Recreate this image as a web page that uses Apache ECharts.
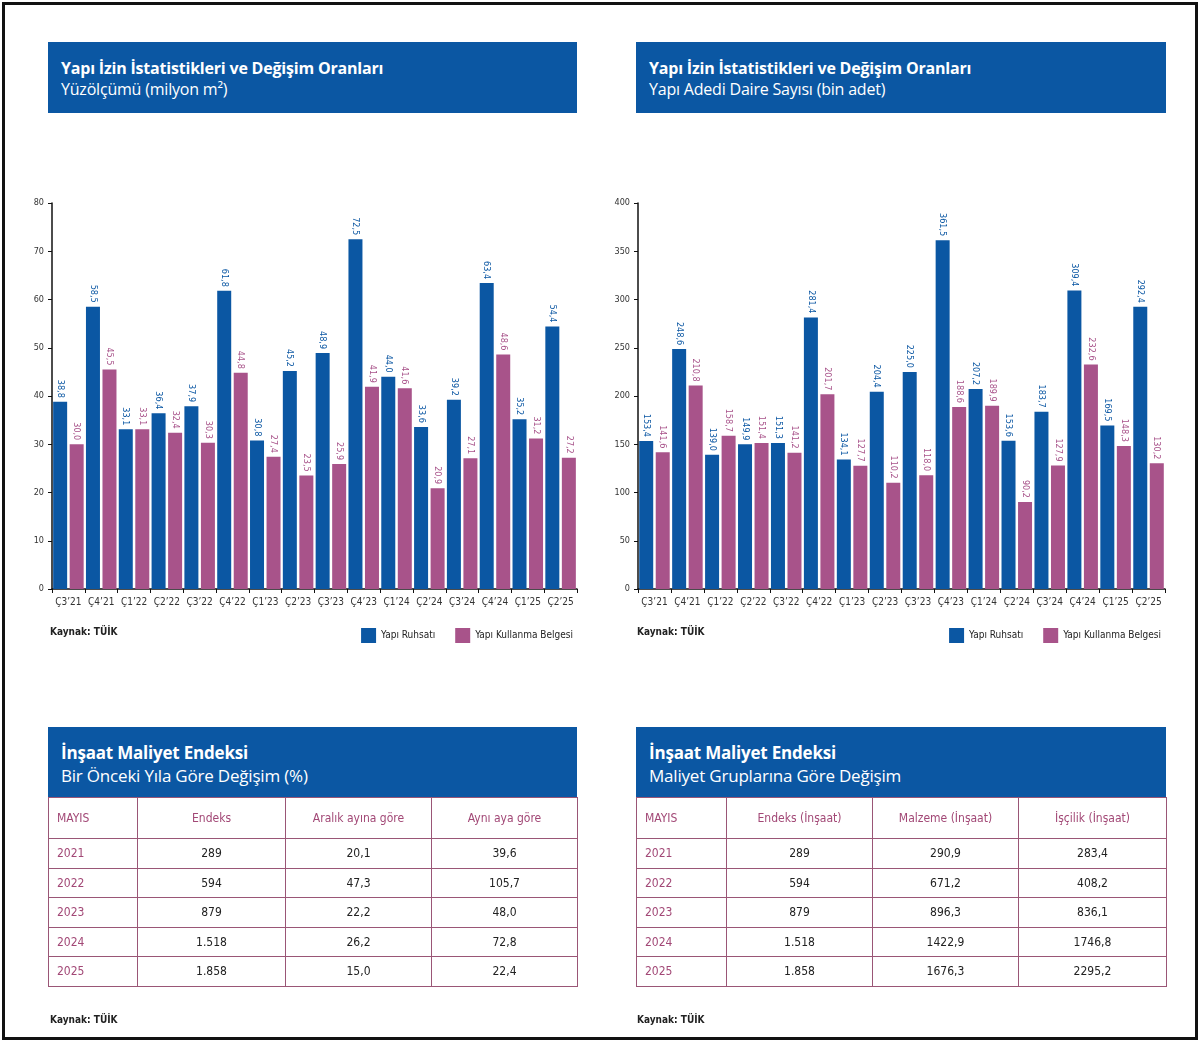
<!DOCTYPE html>
<html>
<head>
<meta charset="utf-8">
<script src="https://cdn.jsdelivr.net/npm/echarts@6/dist/echarts.min.js"></script>
<style>
  html, body { margin:0; padding:0; background:#fff; }
  body { width:1200px; height:1042px; position:relative; overflow:hidden; }
  #frame { position:absolute; left:2px; top:2px; width:1196px; height:1038px; box-sizing:border-box; border:3px solid #111; pointer-events:none; z-index:5; }
  #chart { position:absolute; left:0; top:0; width:1200px; height:1042px; }
  .hdr { position:absolute; background:#0b57a3; color:#fff; font-family:"Open Sans","Noto Sans",sans-serif; box-sizing:border-box; padding-left:13px; z-index:3; }
  .hdr .t { font-weight:700; font-size:16px; line-height:21px; letter-spacing:-0.2px; }
  .hdr .s { font-weight:400; font-size:16px; line-height:21px; letter-spacing:-0.2px; }
  .src { position:absolute; font-family:"Liberation Sans Narrow","DejaVu Sans Condensed","Liberation Sans",sans-serif; font-size:10px; color:#222; z-index:3; font-weight:700; }
  table { position:absolute; border-collapse:collapse; table-layout:fixed; z-index:3; font-family:"Liberation Sans Narrow","DejaVu Sans Condensed","Liberation Sans",sans-serif; font-size:12px; }
  td, th { border:1.5px solid #9a5676; padding:0; text-align:center; color:#222; }
  th { height:40px; color:#a24876; font-weight:400; }
  td { height:28.5px; }
  td.y, th.y { text-align:left; padding-left:8px; color:#a24876; }
</style>
</head>
<body>
<div id="frame"></div>
<div id="chart"></div>

<div class="hdr" style="left:48px;top:42px;width:529px;height:71px;padding-top:16px;">
  <div class="t">Yapı İzin İstatistikleri ve Değişim Oranları</div>
  <div class="s">Yüzölçümü (milyon m²)</div>
</div>
<div class="hdr" style="left:636px;top:42px;width:530px;height:71px;padding-top:16px;">
  <div class="t">Yapı İzin İstatistikleri ve Değişim Oranları</div>
  <div class="s">Yapı Adedi Daire Sayısı (bin adet)</div>
</div>

<div class="src" style="left:50px;top:626px;">Kaynak: TÜİK</div>
<div class="src" style="left:637px;top:626px;">Kaynak: TÜİK</div>

<div class="hdr" style="left:48px;top:727px;width:529px;height:71px;padding-top:14px;">
  <div class="t" style="font-size:17px;line-height:23px;">İnşaat Maliyet Endeksi</div>
  <div class="s" style="font-size:17px;line-height:23px;">Bir Önceki Yıla Göre Değişim (%)</div>
</div>
<div class="hdr" style="left:636px;top:727px;width:530px;height:71px;padding-top:14px;">
  <div class="t" style="font-size:17px;line-height:23px;">İnşaat Maliyet Endeksi</div>
  <div class="s" style="font-size:17px;line-height:23px;">Maliyet Gruplarına Göre Değişim</div>
</div>

<table id="t1" style="left:48px;top:797px;width:529px;"></table>
<table id="t2" style="left:636px;top:797px;width:530px;"></table>

<div class="src" style="left:50px;top:1014px;">Kaynak: TÜİK</div>
<div class="src" style="left:637px;top:1014px;">Kaynak: TÜİK</div>

<script>
// ---- Data ----
var categories = ["Ç3’21","Ç4’21","Ç1’22","Ç2’22","Ç3’22","Ç4’22","Ç1’23","Ç2’23","Ç3’23","Ç4’23","Ç1’24","Ç2’24","Ç3’24","Ç4’24","Ç1’25","Ç2’25"];
var areaPermit    = [38.8,58.5,33.1,36.4,37.9,61.8,30.8,45.2,48.9,72.5,44.0,33.6,39.2,63.4,35.2,54.4];
var areaOccupancy = [30.0,45.5,33.1,32.4,30.3,44.8,27.4,23.5,25.9,41.9,41.6,20.9,27.1,48.6,31.2,27.2];
var dwellPermit    = [153.4,248.6,139.0,149.9,151.3,281.4,134.1,204.4,225.0,361.5,207.2,153.6,183.7,309.4,169.5,292.4];
var dwellOccupancy = [141.6,210.8,158.7,151.4,141.2,201.7,127.7,110.2,118.0,188.6,189.9,90.2,127.9,232.6,148.3,130.2];
var seriesNames = ["Yapı Ruhsatı","Yapı Kullanma Belgesi"];

var tableYears = ["2021","2022","2023","2024","2025"];
var t1Head = ["MAYIS","Endeks","Aralık ayına göre","Aynı aya göre"];
var t1Index = ["289","594","879","1.518","1.858"];
var t1Dec   = ["20,1","47,3","22,2","26,2","15,0"];
var t1Same  = ["39,6","105,7","48,0","72,8","22,4"];
var t2Head = ["MAYIS","Endeks (İnşaat)","Malzeme (İnşaat)","İşçilik (İnşaat)"];
var t2Index = ["289","594","879","1.518","1.858"];
var t2Mat   = ["290,9","671,2","896,3","1422,9","1676,3"];
var t2Lab   = ["283,4","408,2","836,1","1746,8","2295,2"];

// ---- Tables ----
function buildTable(id, head, cols, widths) {
  var html = '<colgroup>';
  widths.forEach(function(w){ html += '<col style="width:' + w + 'px">'; });
  html += '</colgroup><tr>';
  head.forEach(function(h, i){ html += '<th class="' + (i===0?'y':'') + '">' + h + '</th>'; });
  html += '</tr>';
  tableYears.forEach(function(y, r){
    html += '<tr><td class="y">' + y + '</td>';
    cols.forEach(function(c){ html += '<td>' + c[r] + '</td>'; });
    html += '</tr>';
  });
  document.getElementById(id).innerHTML = html;
}
buildTable('t1', t1Head, [t1Index, t1Dec, t1Same], [89,148,146,146]);
buildTable('t2', t2Head, [t2Index, t2Mat, t2Lab], [90,146,146,148]);

// ---- Chart ----
var BLUE = '#0b57a3', PINK = '#a8538a';
var narrow = '"Liberation Sans Narrow","DejaVu Sans Condensed","Liberation Sans",sans-serif';
function fmt(p){ return p.value.toFixed(1).replace('.', ','); }

function xAxis(idx){
  return {
    type:'category', gridIndex:idx, data:categories,
    axisLine:{lineStyle:{color:'#111', width:1.5}},
    axisTick:{show:true, length:4, lineStyle:{color:'#111'}},
    axisLabel:{color:'#333', fontSize:10, fontFamily:narrow, margin:8, interval:0}
  };
}
function yAxis(idx, max, interval){
  return {
    type:'value', gridIndex:idx, min:0, max:max, interval:interval,
    axisLine:{show:true, lineStyle:{color:'#111', width:1.5}},
    axisTick:{show:true, length:4, lineStyle:{color:'#111'}},
    splitLine:{show:false},
    axisLabel:{color:'#333', fontSize:9, fontFamily:narrow, margin:8}
  };
}
function bar(name, data, idx, color){
  return {
    name:name, type:'bar', xAxisIndex:idx, yAxisIndex:idx, data:data,
    barWidth:14, barGap:'18%',
    itemStyle:{color:color},
    label:{show:true, position:'top', rotate:-90, align:'right', verticalAlign:'middle',
           distance:4, color:color, fontSize:9, fontFamily:narrow, formatter:fmt}
  };
}

var chart = echarts.init(document.getElementById('chart'));
chart.setOption({
  animation:false,
  grid:[
    {left:52, width:525, top:203, height:386},
    {left:638, width:527, top:203, height:386}
  ],
  legend:[
    {data:seriesNames, right:622, top:623, itemWidth:15, itemHeight:15, itemGap:20, icon:'rect',
     textStyle:{fontSize:10, fontFamily:narrow, color:'#222'}},
    {data:seriesNames, right:34, top:623, itemWidth:15, itemHeight:15, itemGap:20, icon:'rect',
     textStyle:{fontSize:10, fontFamily:narrow, color:'#222'}}
  ],
  xAxis:[xAxis(0), xAxis(1)],
  yAxis:[yAxis(0, 80, 10), yAxis(1, 400, 50)],
  series:[
    bar(seriesNames[0], areaPermit, 0, BLUE),
    bar(seriesNames[1], areaOccupancy, 0, PINK),
    bar(seriesNames[0], dwellPermit, 1, BLUE),
    bar(seriesNames[1], dwellOccupancy, 1, PINK)
  ]
});
</script>
</body>
</html>
